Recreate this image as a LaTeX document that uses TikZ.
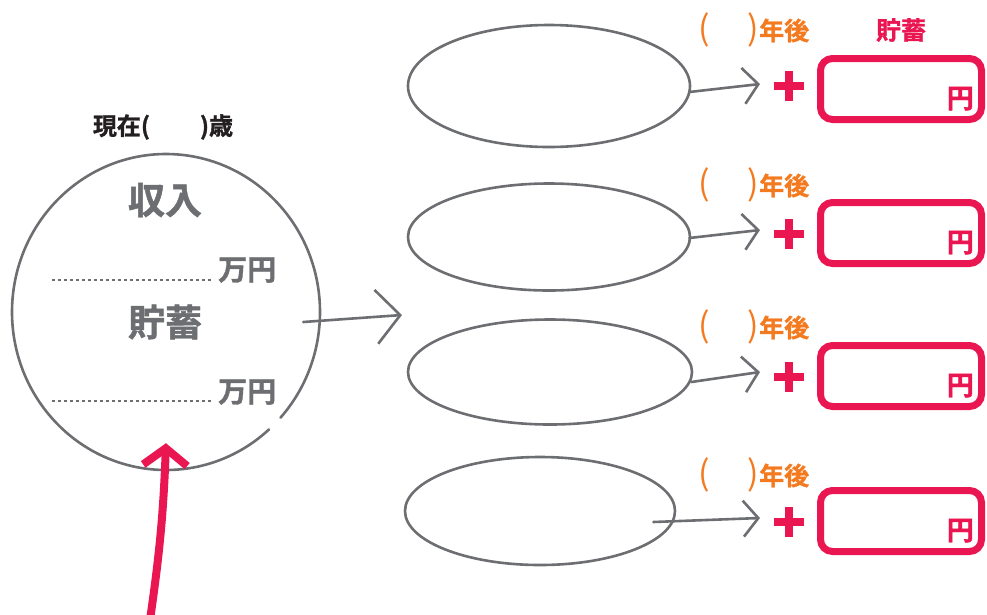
\documentclass[tikz,border=0pt]{standalone}
\usepackage{fontspec}
\setmainfont{Noto Sans CJK JP}[BoldFont={Noto Sans CJK JP Bold}, BoldFeatures={FakeBold=1.2}]
\usetikzlibrary{shapes.geometric,arrows.meta,positioning}
\definecolor{inkgray}{HTML}{6D6E71}
\definecolor{inkpink}{HTML}{EA1652}
\definecolor{inkorange}{HTML}{F47A20}
\definecolor{inkblack}{HTML}{231F20}

\begin{document}
\begin{tikzpicture}[
    x=1pt, y=-1pt,
    every node/.style={inner sep=0pt, font=\bfseries},
    sketch/.style={draw=inkgray, line width=2.6pt, line cap=round},
    oval/.style={ellipse, sketch},
    flow/.style={inkgray, line width=2.6pt, line cap=round, -{Straight Barb[length=15pt, width=36pt]}},
    bigflow/.style={flow, -{Straight Barb[length=24pt, width=54pt]}},
    hint/.style={inkpink, line width=8pt, -{Straight Barb[length=17pt, width=44pt]}},
    dotline/.style={inkgray, line width=1.5pt, dash pattern=on 2.5pt off 3.5pt},
    headtext/.style={text=inkgray, font=\fontsize{37}{37}\selectfont\bfseries},
    unit/.style={text=inkgray, font=\fontsize{29}{29}\selectfont\bfseries, anchor=west},
    savebox/.style={draw=inkpink, line width=7pt, rounded corners=12pt, minimum width=161pt, minimum height=61pt},
    yen/.style={text=inkpink, font=\fontsize{27}{27}\selectfont\bfseries, anchor=base east},
    years/.style={text=inkorange, font=\fontsize{25}{25}\selectfont\bfseries, anchor=base west},
    plusbar/.style={draw=inkpink, line width=8pt}
]
\useasboundingbox (0,0) rectangle (987,614);

% Now: age, income and savings
\node[text=inkblack, font=\fontsize{24}{24}\selectfont\bfseries] (age) at (163,127) {現在(\hspace{50pt})歳};
\node[ellipse, minimum width=308pt, minimum height=316pt] (now) at (166,312) {};
\draw[sketch] (now.center) ++(48:154 and 158) arc[start angle=48, end angle=402, x radius=154, y radius=158];

\node[headtext] (income) at (165,200) {収入};
\node[unit] (man1) at (218,270) {万円};
\coordinate (dot1) at (52,280);
\draw[dotline] (dot1) -- ([shift={(-6pt,-10pt)}]man1.west);

\node[headtext] (saving) at (165,322) {貯蓄};
\node[unit] (man2) at (218,392) {万円};
\coordinate (dot2) at (52,401);
\draw[dotline] (dot2) -- ([shift={(-6pt,-9pt)}]man2.west);

% Arrow to the future
\coordinate (future) at (402,315);
\draw[bigflow] ([shift={(-17pt,-10pt)}]now.east) -- (future);

% Pink hint arrow
\coordinate (hintfoot) at (150,620);
\draw[hint] (hintfoot) to[bend right=3] ([yshift=27pt]now.south);

% Future ovals
\node[oval, minimum width=282pt, minimum height=122pt] (o1) at (549,86) {};
\node[oval, minimum width=282pt, minimum height=107pt] (o2) at (549,237) {};
\node[oval, minimum width=284pt, minimum height=105pt] (o3) at (550,372) {};
\node[oval, minimum width=270pt, minimum height=108pt] (o4) at (540,511) {};

\coordinate (a1) at (760,84);
\coordinate (a2) at (760,230);
\coordinate (a3) at (760,372);
\coordinate (a4) at (760,518);
\draw[flow] ([shift={(-2pt,-6pt)}]o1.east) -- (a1);
\draw[flow] ([shift={(-2pt,-1pt)}]o2.east) -- (a2);
\draw[flow] ([shift={(-2pt,-10pt)}]o3.east) -- (a3);
\draw[flow] ([shift={(-23pt,-11pt)}]o4.east) -- (a4);

% Plus signs
\coordinate (p1) at (789,86);
\coordinate (p2) at (789,234);
\coordinate (p3) at (789,377);
\coordinate (p4) at (789,522);
\foreach \p in {p1,p2,p3,p4}
  \draw[plusbar] (\p) +(-15,0) -- +(15,0) (\p) +(0,-15) -- +(0,15);

% Savings boxes
\node[text=inkpink, font=\fontsize{25}{25}\selectfont\bfseries] (savehead) at (901,30) {貯蓄};
\node[savebox] (b1) at (901,89) {};
\node[savebox] (b2) at (901,233) {};
\node[savebox] (b3) at (901,376) {};
\node[savebox] (b4) at (901,521) {};
\node[yen] (yen1) at ([shift={(-11pt,15pt)}]b1.south east) {円};
\node[yen] (yen2) at ([shift={(-11pt,15pt)}]b2.south east) {円};
\node[yen] (yen3) at ([shift={(-11pt,15pt)}]b3.south east) {円};
\node[yen] (yen4) at ([shift={(-11pt,15pt)}]b4.south east) {円};

% Years later
\node[years] (y1) at (698,40) {{\fontsize{34}{34}\selectfont\mdseries(\hspace{38pt})}年後};
\node[years] (y2) at (698,195) {{\fontsize{34}{34}\selectfont\mdseries(\hspace{38pt})}年後};
\node[years] (y3) at (698,337) {{\fontsize{34}{34}\selectfont\mdseries(\hspace{38pt})}年後};
\node[years] (y4) at (698,485) {{\fontsize{34}{34}\selectfont\mdseries(\hspace{38pt})}年後};

\end{tikzpicture}
\end{document}
